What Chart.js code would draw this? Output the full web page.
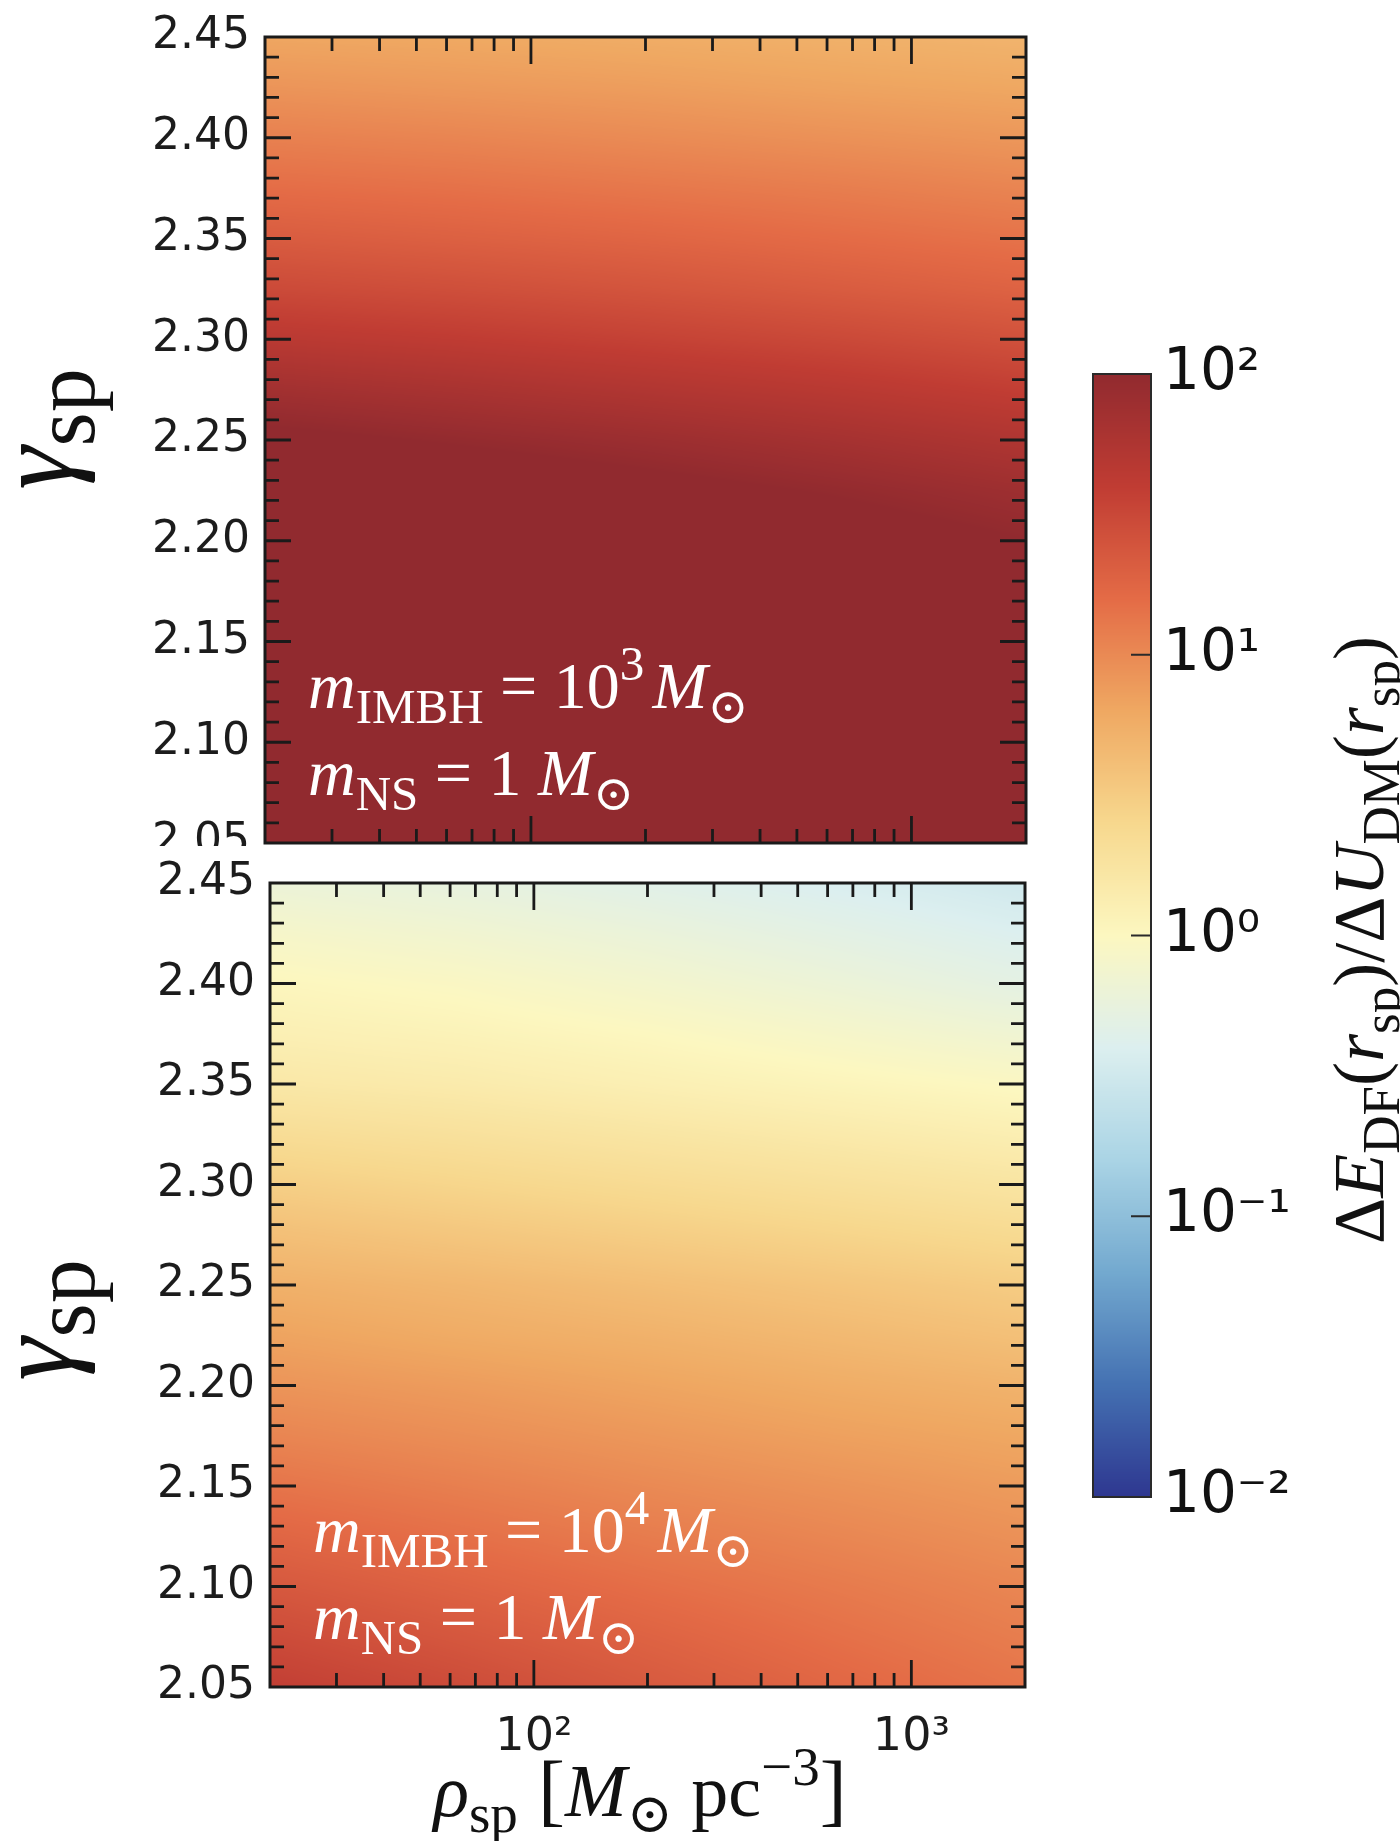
<!DOCTYPE html>
<html>
<head>
<meta charset="utf-8">
<script src="https://cdn.jsdelivr.net/npm/chart.js@4.4.1/dist/chart.umd.min.js"></script>
<style>
  html, body { margin: 0; padding: 0; background: #fff; }
  #page { position: relative; width: 1400px; height: 1841px; overflow: hidden; background: #fff; }
  canvas { position: absolute; }
</style>
</head>
<body>
<div id="page">
  <canvas id="top" width="1060" height="846" style="left:0;top:0"></canvas>
  <canvas id="bottom" width="1060" height="991" style="left:0;top:850px"></canvas>
  <canvas id="cbar" width="340" height="1300" style="left:1060px;top:300px"></canvas>
</div>
<script>
// grid columns: rho_sp [M_sun pc^-3]
const rhoValues = [20, 63, 200, 630, 2000];
// grid rows: gamma_sp, bottom to top
const gammaValues = [2.05, 2.075, 2.1, 2.125, 2.15, 2.175, 2.2, 2.225, 2.25, 2.275, 2.3, 2.325, 2.35, 2.375, 2.4, 2.425, 2.45];

// log10(dE_DF / dU_DM), one row per gamma (bottom to top), one entry per rho
const logRatioImbh3 = [
  [3.20, 3.11, 3.01, 2.90, 2.79],
  [3.08, 2.99, 2.89, 2.78, 2.67],
  [2.95, 2.86, 2.76, 2.65, 2.54],
  [2.80, 2.71, 2.62, 2.51, 2.40],
  [2.65, 2.56, 2.47, 2.36, 2.25],
  [2.52, 2.43, 2.34, 2.23, 2.12],
  [2.38, 2.29, 2.20, 2.10, 2.00],
  [2.22, 2.14, 2.06, 1.98, 1.89],
  [2.05, 1.98, 1.91, 1.83, 1.74],
  [1.86, 1.80, 1.73, 1.66, 1.58],
  [1.66, 1.61, 1.55, 1.49, 1.42],
  [1.48, 1.44, 1.39, 1.33, 1.27],
  [1.33, 1.29, 1.25, 1.20, 1.15],
  [1.19, 1.16, 1.12, 1.08, 1.03],
  [1.06, 1.03, 0.99, 0.95, 0.91],
  [0.93, 0.90, 0.87, 0.83, 0.80],
  [0.81, 0.79, 0.76, 0.73, 0.70]
];
const logRatioImbh4 = [
  [1.58, 1.47, 1.35, 1.24, 1.14],
  [1.47, 1.37, 1.27, 1.17, 1.08],
  [1.36, 1.27, 1.18, 1.10, 1.02],
  [1.25, 1.17, 1.09, 1.02, 0.95],
  [1.14, 1.07, 1.00, 0.94, 0.88],
  [1.03, 0.97, 0.91, 0.85, 0.80],
  [0.93, 0.88, 0.82, 0.76, 0.71],
  [0.83, 0.77, 0.72, 0.66, 0.60],
  [0.73, 0.68, 0.62, 0.56, 0.50],
  [0.61, 0.55, 0.49, 0.43, 0.37],
  [0.48, 0.42, 0.36, 0.30, 0.24],
  [0.34, 0.29, 0.23, 0.17, 0.11],
  [0.20, 0.16, 0.10, 0.04, -0.02],
  [0.10, 0.06, 0.00, -0.08, -0.16],
  [0.02, -0.03, -0.11, -0.20, -0.30],
  [-0.08, -0.14, -0.22, -0.31, -0.40],
  [-0.20, -0.26, -0.34, -0.42, -0.50]
];

const imbhExponents = ['3', '4'];
const nsMass = '1';
const gammaTickLabels = ['2.05', '2.10', '2.15', '2.20', '2.25', '2.30', '2.35', '2.40', '2.45'];
const rhoDecades = [100, 1000];
const rhoDecadeLabels = ['10²', '10³'];
const cbarDecades = [0.01, 0.1, 1, 10, 100];
const cbarLabels = ['10⁻²', '10⁻¹', '10⁰', '10¹', '10²'];

// RdYlBu_r-like, a bit muted like the printed figure
const CMAP = [
  [0.0, '#2e3790'], [0.1, '#4471b2'], [0.2, '#73a9cf'], [0.3, '#aad4e5'],
  [0.4, '#dcefef'], [0.5, '#fcf7c0'], [0.6, '#f7d88e'], [0.7, '#efa862'],
  [0.8, '#e46b46'], [0.9, '#c03c33'], [1.0, '#912a2f']
];
const SERIF = '"Liberation Serif", "DejaVu Serif", serif';
const SANS = '"DejaVu Sans", sans-serif';

function hexToRgb(h) {
  return [parseInt(h.slice(1, 3), 16), parseInt(h.slice(3, 5), 16), parseInt(h.slice(5, 7), 16)];
}
const lut = [];
for (let i = 0; i < 1024; i++) {
  const t = i / 1023;
  let k = 0;
  while (k < CMAP.length - 2 && t > CMAP[k + 1][0]) k++;
  const a = hexToRgb(CMAP[k][1]), b = hexToRgb(CMAP[k + 1][1]);
  const f = (t - CMAP[k][0]) / (CMAP[k + 1][0] - CMAP[k][0]);
  lut.push([0, 1, 2].map(c => Math.round(a[c] + (b[c] - a[c]) * f)));
}
function colorFor(logv) {
  let t = (logv + 2) / 4;
  t = Math.min(1, Math.max(0, t));
  return lut[Math.round(t * 1023)];
}

// rich text: parts are [text, relSize, italic, relDy]
function drawRich(ctx, parts, S, x, y, align) {
  let total = 0;
  const widths = parts.map(p => {
    ctx.font = `${p[2] ? 'italic ' : ''}${Math.round(S * p[1])}px ${SERIF}`;
    const w = ctx.measureText(p[0]).width;
    total += w;
    return w;
  });
  let cx = align === 'center' ? x - total / 2 : x;
  ctx.textAlign = 'left';
  ctx.textBaseline = 'alphabetic';
  parts.forEach((p, i) => {
    ctx.font = `${p[2] ? 'italic ' : ''}${Math.round(S * p[1])}px ${SERIF}`;
    ctx.fillText(p[0], cx, y + (p[3] || 0) * S);
    cx += widths[i];
  });
}
const SUB = 0.74, SUBDY = 0.22, SUPDY = -0.42;

// Gouraud-style shading of the grid through the chart scales
const heatmapPlugin = {
  id: 'heatmap',
  beforeDatasetsDraw(chart, args, opts) {
    const vals = opts.values;
    const a = chart.chartArea, xs = chart.scales.x, ys = chart.scales.y;
    const w = Math.round(a.right - a.left), h = Math.round(a.bottom - a.top);
    const lc = rhoValues.map(v => Math.log10(v));
    const colI = [], colF = [], rowJ = [], rowF = [];
    for (let px = 0; px < w; px++) {
      const lx = Math.log10(xs.getValueForPixel(a.left + px + 0.5));
      let i = 0;
      while (i < lc.length - 2 && lx > lc[i + 1]) i++;
      colI.push(i);
      colF.push(Math.min(1, Math.max(0, (lx - lc[i]) / (lc[i + 1] - lc[i]))));
    }
    for (let py = 0; py < h; py++) {
      const g = ys.getValueForPixel(a.top + py + 0.5);
      let j = 0;
      while (j < gammaValues.length - 2 && g > gammaValues[j + 1]) j++;
      rowJ.push(j);
      rowF.push(Math.min(1, Math.max(0, (g - gammaValues[j]) / (gammaValues[j + 1] - gammaValues[j]))));
    }
    const off = document.createElement('canvas');
    off.width = w; off.height = h;
    const octx = off.getContext('2d');
    const img = octx.createImageData(w, h);
    for (let py = 0; py < h; py++) {
      const j = rowJ[py], fy = rowF[py];
      for (let px = 0; px < w; px++) {
        const i = colI[px], fx = colF[px];
        const v = (1 - fy) * ((1 - fx) * vals[j][i] + fx * vals[j][i + 1]) +
                  fy * ((1 - fx) * vals[j + 1][i] + fx * vals[j + 1][i + 1]);
        const c = colorFor(v);
        const o = (py * w + px) * 4;
        img.data[o] = c[0]; img.data[o + 1] = c[1]; img.data[o + 2] = c[2]; img.data[o + 3] = 255;
      }
    }
    octx.putImageData(img, 0, 0);
    chart.ctx.drawImage(off, a.left, a.top);
  }
};

// frame and inward ticks on all four sides
const framePlugin = {
  id: 'frame',
  afterDatasetsDraw(chart) {
    const ctx = chart.ctx, a = chart.chartArea, xs = chart.scales.x, ys = chart.scales.y;
    ctx.save();
    ctx.strokeStyle = '#1a1a1a';
    ctx.lineWidth = 2.8;
    ctx.beginPath();
    for (let d = Math.floor(Math.log10(xs.min)); d <= Math.ceil(Math.log10(xs.max)); d++) {
      for (let k = 1; k <= 9; k++) {
        const v = k * Math.pow(10, d);
        if (v <= xs.min * 1.001 || v >= xs.max * 0.999) continue;
        const x = xs.getPixelForValue(v);
        const len = k === 1 ? 27 : 14;
        ctx.moveTo(x, a.bottom); ctx.lineTo(x, a.bottom - len);
        ctx.moveTo(x, a.top); ctx.lineTo(x, a.top + len);
      }
    }
    const k0 = Math.round(ys.min * 100), k1 = Math.round(ys.max * 100);
    for (let k = k0 + 1; k < k1; k++) {
      const y = ys.getPixelForValue(k / 100);
      const len = k % 5 === 0 ? 26 : 14;
      ctx.moveTo(a.left, y); ctx.lineTo(a.left + len, y);
      ctx.moveTo(a.right, y); ctx.lineTo(a.right - len, y);
    }
    ctx.stroke();
    ctx.lineWidth = 3;
    ctx.strokeRect(a.left, a.top, a.right - a.left, a.bottom - a.top);
    ctx.restore();
  }
};

const notesPlugin = {
  id: 'notes',
  afterDraw(chart, args, o) {
    const ctx = chart.ctx, a = chart.chartArea;
    const S = 66;
    ctx.save();
    ctx.fillStyle = '#ffffff';
    drawRich(ctx, [
      ['m', 1, true], ['IMBH', SUB, false, SUBDY], [' = 10', 1, false],
      [o.exponent, SUB, false, SUPDY], [' ', 0.5, false], ['M', 1, true], ['⊙', SUB, false, SUBDY]
    ], S, a.left + 43, a.bottom - 135, 'left');
    drawRich(ctx, [
      ['m', 1, true], ['NS', SUB, false, SUBDY], [' = ' + nsMass + ' ', 1, false],
      ['M', 1, true], ['⊙', SUB, false, SUBDY]
    ], S, a.left + 43, a.bottom - 48, 'left');
    ctx.fillStyle = '#111111';
    ctx.translate(72, o.titleY);
    ctx.rotate(-Math.PI / 2);
    drawRich(ctx, [['γ', 1, true], ['sp', 0.8, false, 0.2]], 110, 0, 0, 'center');
    ctx.restore();
    if (o.xTitle) {
      ctx.save();
      ctx.fillStyle = '#111111';
      drawRich(ctx, [
        ['ρ', 1, true], ['sp', SUB, false, SUBDY], [' [', 1.1, false], ['M', 1, true],
        ['⊙', SUB, false, SUBDY], [' pc', 1, false], ['−3', SUB, false, SUPDY], [']', 1.1, false]
      ], 74, 640, o.xTitle, 'center');
      ctx.restore();
    }
  }
};

function gridPoints(vals) {
  const pts = [];
  gammaValues.forEach((g, j) => rhoValues.forEach((r, i) => pts.push({ x: r, y: g, v: vals[j][i] })));
  return pts;
}

function panel(id, vals, cfg) {
  return new Chart(document.getElementById(id), {
    type: 'scatter',
    data: { datasets: [{ data: gridPoints(vals), pointRadius: 0, pointHoverRadius: 0 }] },
    options: {
      responsive: false,
      animation: false,
      devicePixelRatio: 1,
      events: [],
      layout: { padding: { left: 0, top: cfg.top, right: cfg.right, bottom: 0 } },
      plugins: {
        legend: { display: false },
        tooltip: { enabled: false },
        heatmap: { values: vals },
        notes: { exponent: cfg.exponent, titleY: cfg.titleY, xTitle: cfg.xTitle }
      },
      scales: {
        x: {
          type: 'logarithmic', min: 20, max: 2000,
          grid: { display: false, drawTicks: false }, border: { display: false },
          ticks: {
            display: cfg.showX, autoSkip: false, maxRotation: 0, padding: 23,
            color: '#1c1c1c', font: { family: SANS, size: 46 },
            callback: v => {
              const k = rhoDecades.findIndex(d => Math.abs(d - v) < 1e-6 * d);
              return k >= 0 ? rhoDecadeLabels[k] : '';
            }
          },
          afterFit: s => { s.height = cfg.xHeight; s.paddingLeft = 0; s.paddingRight = 0; }
        },
        y: {
          type: 'linear', min: 2.05, max: 2.45,
          grid: { display: false, drawTicks: false }, border: { display: false },
          ticks: {
            stepSize: 0.05, autoSkip: false, padding: 15,
            color: '#1c1c1c', font: { family: SANS, size: 44 },
            callback: v => gammaTickLabels.find(l => Math.abs(Number(l) - v) < 1e-6) || ''
          },
          afterFit: s => { s.width = cfg.yWidth; s.paddingTop = 0; s.paddingBottom = 0; }
        }
      }
    },
    plugins: [heatmapPlugin, framePlugin, notesPlugin]
  });
}

panel('top', logRatioImbh3, {
  top: 37, right: 34, xHeight: 3, yWidth: 265, showX: false,
  exponent: imbhExponents[0], titleY: 429, xTitle: null
});
panel('bottom', logRatioImbh4, {
  top: 33, right: 35, xHeight: 154, yWidth: 270, showX: true,
  exponent: imbhExponents[1], titleY: 470, xTitle: 966
});

// colour bar
const cbarPlugin = {
  id: 'cbar',
  beforeDatasetsDraw(chart) {
    const ctx = chart.ctx, a = chart.chartArea, ys = chart.scales.y;
    for (let y = Math.floor(a.top); y < Math.ceil(a.bottom); y++) {
      const c = colorFor(Math.log10(ys.getValueForPixel(y + 0.5)));
      ctx.fillStyle = `rgb(${c[0]},${c[1]},${c[2]})`;
      ctx.fillRect(a.left, y, a.right - a.left, 1);
    }
    ctx.save();
    ctx.strokeStyle = '#2a2a2a';
    ctx.lineWidth = 2;
    ctx.beginPath();
    cbarDecades.forEach(d => {
      if (d <= ys.min || d >= ys.max) return;
      const y = ys.getPixelForValue(d);
      ctx.moveTo(a.right, y); ctx.lineTo(a.right - 20, y);
    });
    ctx.stroke();
    ctx.strokeRect(a.left, a.top, a.right - a.left, a.bottom - a.top);
    ctx.fillStyle = '#111111';
    ctx.translate(323, 640);
    ctx.rotate(-Math.PI / 2);
    drawRich(ctx, [
      ['Δ', 1, false], ['E', 1, true], ['DF', SUB, false, SUBDY], ['(', 1, false], ['r', 1, true],
      ['sp', SUB, false, SUBDY], [')/Δ', 1, false], ['U', 1, true], ['DM', SUB, false, SUBDY],
      ['(', 1, false], ['r', 1, true], ['sp', SUB, false, SUBDY], [')', 1, false]
    ], 72, 0, 0, 'center');
    ctx.restore();
  }
};

new Chart(document.getElementById('cbar'), {
  type: 'scatter',
  data: { datasets: [{ data: cbarDecades.map(d => ({ x: 0, y: d })), pointRadius: 0 }] },
  options: {
    responsive: false,
    animation: false,
    devicePixelRatio: 1,
    events: [],
    layout: { padding: { left: 33, top: 74, right: 0, bottom: 103 } },
    plugins: { legend: { display: false }, tooltip: { enabled: false } },
    scales: {
      x: { display: false, min: 0, max: 1 },
      y: {
        type: 'logarithmic', position: 'right', min: 0.01, max: 100,
        grid: { display: false, drawTicks: false }, border: { display: false },
        ticks: {
          autoSkip: false, padding: 12, color: '#111111', font: { family: SANS, size: 58 },
          callback: v => {
            const k = cbarDecades.findIndex(d => Math.abs(d - v) < 1e-6 * d);
            return k >= 0 ? cbarLabels[k] : '';
          }
        },
        afterFit: s => { s.width = 249; s.paddingTop = 0; s.paddingBottom = 0; }
      }
    }
  },
  plugins: [cbarPlugin]
});
</script>
</body>
</html>
